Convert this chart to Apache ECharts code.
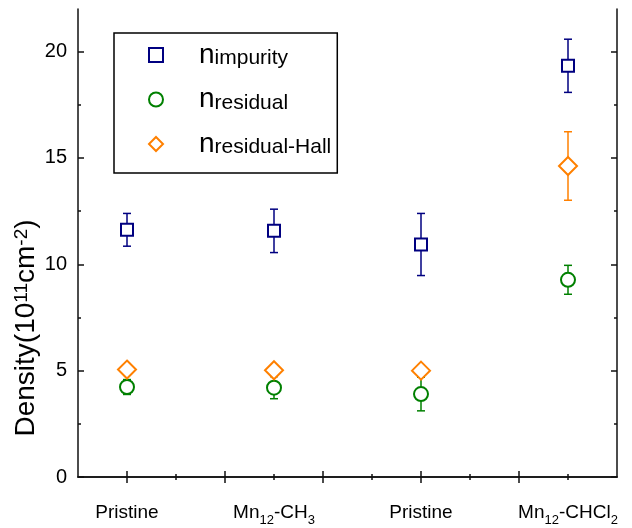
<!DOCTYPE html>
<html>
<head>
<meta charset="utf-8">
<script src="https://cdn.jsdelivr.net/npm/echarts@6/dist/echarts.min.js"></script>
<style>
  html, body { margin: 0; padding: 0; background: #fff; }
  #chart { width: 632px; height: 528px; }
</style>
</head>
<body>
<div id="chart"></div>
<script>
// sample positions on the x axis and their labels
const samplePos = [1, 2.5, 4, 5.5];
const sampleLabels = ['{a|Pristine}', '{a|Mn}{sub|12}{a|-CH}{sub|3}', '{a|Pristine}', '{a|Mn}{sub|12}{a|-CHCl}{sub|2}'];

// densities (10^11 cm^-2) with error half-widths
const impurity = [11.62, 11.57, 10.93, 19.33];
const impurityErr = [0.77, 1.02, 1.46, 1.25];
const residual = [4.23, 4.2, 3.9, 9.27];
const residualErr = [0.35, 0.52, 0.79, 0.68];
const hall = [5.05, 5.02, 5.0, 14.62];
const hallErr = [0.25, 0.25, 0.25, 1.61];

// ticks
const xMajor = [1, 2, 3, 4, 5];
const xMinor = [1.5, 2.5, 3.5, 4.5, 5.5];
const yMajor = [0, 5, 10, 15, 20];
const yMinor = [2.5, 7.5, 12.5, 17.5];

const FONT = '"Liberation Sans", Arial, sans-serif';
const AXIS = '#111';
const BLUE = '#000080';
const GREEN = '#008000';
const ORANGE = '#ff8000';

function xAx(position, ticks, len, main) {
  return {
    type: 'value', position, min: 0.5, max: 6,
    axisLine: { show: main, lineStyle: { color: AXIS, width: 1.5 } },
    axisTick: { show: true, inside: true, length: len, customValues: ticks, lineStyle: { color: AXIS, width: 1.5 } },
    axisLabel: main && position === 'bottom' ? {
      customValues: samplePos,
      formatter: (v) => sampleLabels[samplePos.indexOf(v)] || '',
      margin: 22,
      fontFamily: FONT,
      color: '#000',
      rich: {
        a: { fontSize: 19, lineHeight: 28, fontFamily: FONT, color: '#000' },
        sub: { fontSize: 13, lineHeight: 14, padding: [14, 0, 0, 0], verticalAlign: 'bottom', fontFamily: FONT, color: '#000' }
      }
    } : { show: false },
    splitLine: { show: false }
  };
}

function yAx(position, ticks, len, main) {
  const ax = {
    type: 'value', position, min: 0, max: 22,
    axisLine: { show: main, lineStyle: { color: AXIS, width: 1.5 } },
    axisTick: { show: true, inside: true, length: len, customValues: ticks, lineStyle: { color: AXIS, width: 1.5 } },
    axisLabel: main && position === 'left' ? {
      customValues: yMajor, margin: 11, fontSize: 20, fontFamily: FONT, color: '#000'
    } : { show: false },
    splitLine: { show: false }
  };
  if (main && position === 'left') {
    ax.name = 'Density(10{sup|11}cm{sup|-2})';
    ax.nameLocation = 'middle';
    ax.nameGap = 38;
    ax.nameMoveOverlap = false;
    ax.nameRotate = 90;
    ax.nameTextStyle = {
      fontSize: 28, fontFamily: FONT, color: '#000',
      padding: [0, 170, 0, 0],
      rich: {
        sup: { fontSize: 19, lineHeight: 19, padding: [0, 0, 13, 0], verticalAlign: 'top', fontFamily: FONT, color: '#000' }
      }
    };
  }
  return ax;
}

function errorSeries(vals, errs, color, z) {
  return {
    type: 'custom', silent: true, z,
    data: samplePos.map((x, i) => [x, vals[i] - errs[i], vals[i] + errs[i]]),
    encode: { x: 0, y: [1, 2] },
    renderItem(params, api) {
      const lo = api.coord([api.value(0), api.value(1)]);
      const hi = api.coord([api.value(0), api.value(2)]);
      const w = 4;
      const style = { stroke: color, lineWidth: 1.5 };
      return {
        type: 'group',
        children: [
          { type: 'line', shape: { x1: hi[0], y1: hi[1], x2: lo[0], y2: lo[1] }, style },
          { type: 'line', shape: { x1: hi[0] - w, y1: hi[1], x2: hi[0] + w, y2: hi[1] }, style },
          { type: 'line', shape: { x1: lo[0] - w, y1: lo[1], x2: lo[0] + w, y2: lo[1] }, style }
        ]
      };
    }
  };
}

function pointSeries(name, vals, symbol, size, color, z) {
  return {
    name, type: 'scatter', symbol, symbolSize: size, z,
    data: samplePos.map((x, i) => [x, vals[i]]),
    itemStyle: { color: '#fff', borderColor: color, borderWidth: 2, opacity: 1 }
  };
}

const chart = echarts.init(document.getElementById('chart'), null, { renderer: 'canvas' });
chart.setOption({
  animation: false,
  backgroundColor: '#fff',
  textStyle: { fontFamily: FONT },
  grid: { left: 78, right: 15, top: 9, bottom: 51, outerBoundsMode: 'none' },
  xAxis: [
    xAx('bottom', xMajor, 6, true),
    xAx('bottom', xMinor, 3, false),
    xAx('top', xMajor, 6, true),
    xAx('top', xMinor, 3, false)
  ],
  yAxis: [
    yAx('left', yMajor, 6, true),
    yAx('left', yMinor, 3, false),
    yAx('right', yMajor, 6, true),
    yAx('right', yMinor, 3, false)
  ],
  legend: {
    orient: 'vertical', left: 114, top: 33,
    padding: [-7, 6, 15, 34],
    itemGap: 1.5, itemWidth: 14, itemHeight: 14,
    borderColor: '#000', borderWidth: 1.5,
    data: [
      { name: 'impurity', icon: 'rect' },
      { name: 'residual', icon: 'circle' },
      { name: 'residual-Hall', icon: 'diamond' }
    ],
    formatter: (name) => '{n|n}{s|' + name + '}',
    textStyle: {
      fontFamily: FONT,
      rich: {
        n: { fontSize: 28, lineHeight: 28, padding: [0, 0, 0, 31], verticalAlign: 'middle', fontFamily: FONT, color: '#000' },
        s: { fontSize: 21, lineHeight: 22, padding: [22, 0, 0, 0], verticalAlign: 'bottom', fontFamily: FONT, color: '#000' }
      }
    }
  },
  series: [
    errorSeries(impurity, impurityErr, BLUE, 1),
    pointSeries('impurity', impurity, 'rect', 12, BLUE, 2),
    errorSeries(residual, residualErr, GREEN, 3),
    pointSeries('residual', residual, 'circle', 14, GREEN, 4),
    errorSeries(hall, hallErr, ORANGE, 5),
    pointSeries('residual-Hall', hall, 'diamond', 18, ORANGE, 6)
  ]
});
</script>
</body>
</html>
